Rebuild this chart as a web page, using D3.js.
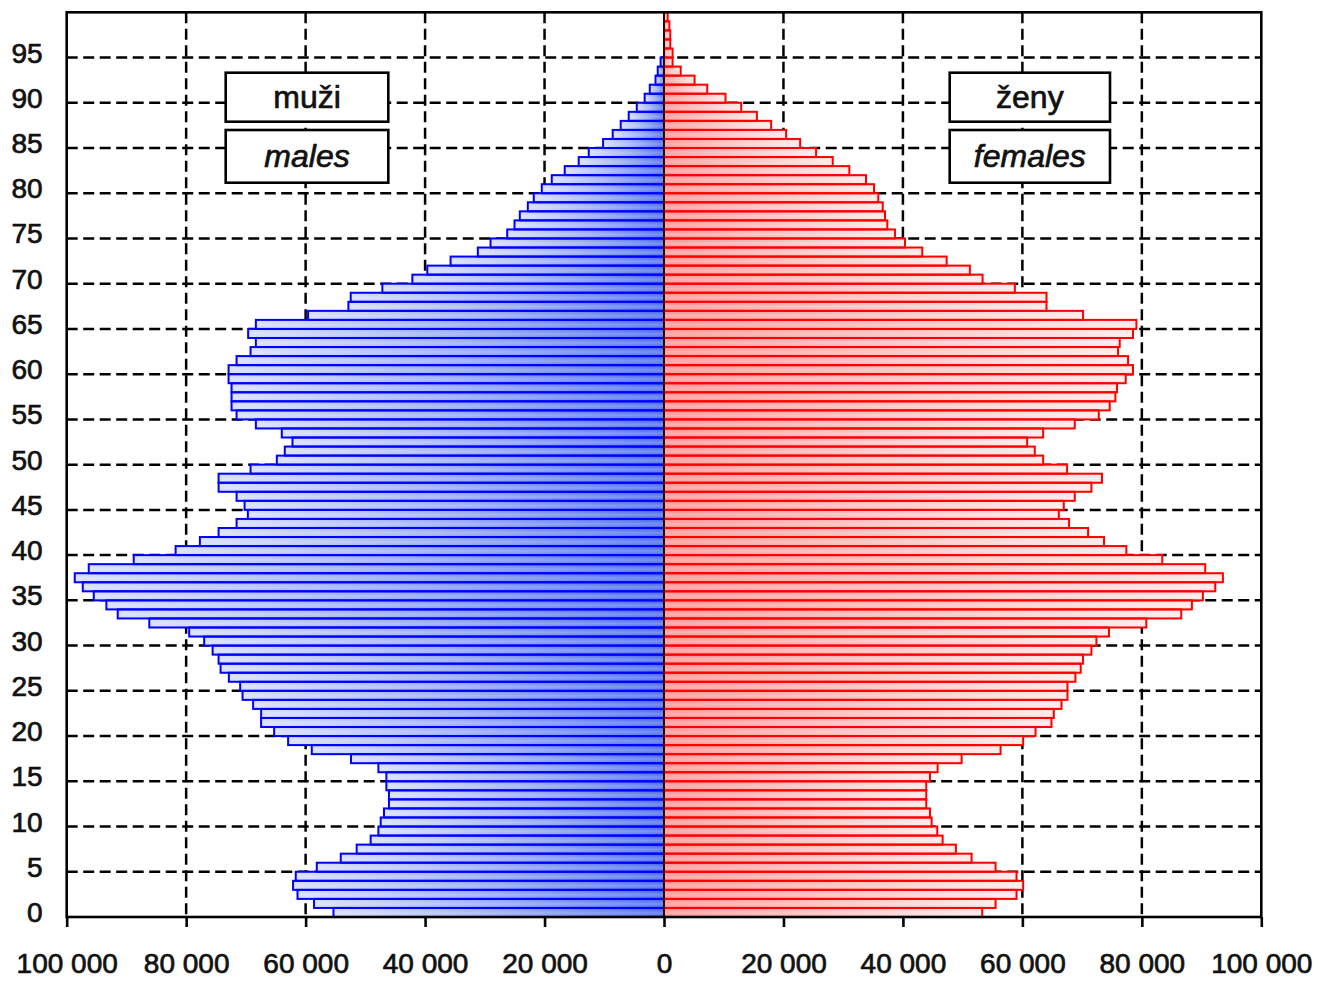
<!DOCTYPE html>
<html><head><meta charset="utf-8">
<script src="https://cdn.jsdelivr.net/npm/d3@7"></script>
<style>html,body{margin:0;padding:0;background:#fff;} svg{display:block;}</style>
</head><body>
<svg id="chart" width="1318" height="981"></svg>
<script>
// ---------- DATA ----------
const ages = d3.range(0, 100); // single years of age 0..99
const males = [
  55340, 58590, 61360, 62100, 61650, 58130, 54120, 51450, 49110, 47820,
  47430, 46880, 46050, 46050, 46480, 46480, 47820, 52400, 58970, 62930,
  65270, 67450, 67450, 68790, 70560, 70960, 72850, 74240, 74570, 75570,
  76980, 79490, 86170, 91460, 93360, 95470, 97310, 98650, 96310, 88780,
  81760, 77700, 74570, 71560, 69670, 70220, 71560, 74570, 74570, 69220,
  64820, 63490, 62200, 63990, 68330, 71560, 72400, 72400, 72400, 72900,
  72900, 71560, 69220, 68330, 69620, 68330, 59590, 52840, 52450, 47150,
  42130, 39630, 35730, 31170, 29040, 26250, 25030, 24140, 22800, 21800,
  20460, 18790, 16620, 14280, 12600, 10200, 8590, 7250, 5910, 4560,
  3240, 2380, 1420, 1050, 570, 0, 0, 0, 0, 0
];
const females = [
  53280, 55510, 59020, 60130, 59020, 55510, 51500, 48870, 46650, 45750,
  44810, 44530, 43910, 43910, 43910, 44530, 45810, 49830, 56350, 60130,
  62200, 64870, 65260, 66550, 67550, 67550, 68880, 69770, 70160, 71560,
  72400, 74500, 80750, 86600, 88380, 90220, 92290, 93570, 90620, 83430,
  77410, 73670, 71000, 67820, 66100, 66930, 68770, 71560, 73330, 67490,
  63480, 62080, 60800, 63480, 68770, 72790, 74620, 75570, 75850, 77300,
  78520, 77690, 76020, 76300, 78520, 79090, 70160, 64040, 64040, 58740,
  53340, 51210, 47320, 43240, 40350, 38670, 37390, 37000, 36620, 35880,
  35160, 33820, 31030, 28250, 25460, 22790, 20450, 17940, 15550, 12930,
  10300, 7240, 5120, 2800, 1440, 1440, 1050, 1050, 900, 620
];
const xTickValues = [-100000, -80000, -60000, -40000, -20000, 0, 20000, 40000, 60000, 80000, 100000];
const xTickLabels = ["100 000", "80 000", "60 000", "40 000", "20 000", "0", "20 000", "40 000", "60 000", "80 000", "100 000"];
const yTickValues = [0, 5, 10, 15, 20, 25, 30, 35, 40, 45, 50, 55, 60, 65, 70, 75, 80, 85, 90, 95];
const yTickLabels = ["0", "5", "10", "15", "20", "25", "30", "35", "40", "45", "50", "55", "60", "65", "70", "75", "80", "85", "90", "95"];
const legendMale = ["muži", "males"];
const legendFemale = ["ženy", "females"];

// ---------- LAYOUT ----------
const plot = { left: 66.7, right: 1261.3, top: 12.3, bottom: 917 };
const FONT = "'Liberation Sans', Arial, sans-serif";

const svg = d3.select("#chart");
const x = d3.scaleLinear().domain([-100000, 100000]).range([plot.left, plot.right]);
const y = d3.scaleLinear().domain([0, 100]).range([plot.bottom, plot.top]);

// gradients
const defs = svg.append("defs");
const gM = defs.append("linearGradient").attr("id", "gMale").attr("x1", 0).attr("x2", 1).attr("y1", 0).attr("y2", 0);
gM.append("stop").attr("offset", 0).attr("stop-color", "#d2dafc");
gM.append("stop").attr("offset", 0.5).attr("stop-color", "#8ea3f5");
gM.append("stop").attr("offset", 1).attr("stop-color", "#3c60ee");
const gF = defs.append("linearGradient").attr("id", "gFemale").attr("x1", 0).attr("x2", 1).attr("y1", 0).attr("y2", 0);
gF.append("stop").attr("offset", 0).attr("stop-color", "#ff8c8c");
gF.append("stop").attr("offset", 0.5).attr("stop-color", "#ffb8b8");
gF.append("stop").attr("offset", 1).attr("stop-color", "#ffe6e6");
const gV = defs.append("linearGradient").attr("id", "gShine").attr("x1", 0).attr("x2", 0).attr("y1", 0).attr("y2", 1);
gV.append("stop").attr("offset", 0).attr("stop-color", "#fff").attr("stop-opacity", 0.0);
gV.append("stop").attr("offset", 0.55).attr("stop-color", "#fff").attr("stop-opacity", 0.3);
gV.append("stop").attr("offset", 1).attr("stop-color", "#fff").attr("stop-opacity", 0.05);

// gridlines (behind bars)
const grid = svg.append("g").attr("stroke", "#000").attr("stroke-width", 2.5).attr("stroke-dasharray", "11,5.5");
grid.selectAll("line.h").data(yTickValues.filter(v => v > 0)).join("line")
  .attr("x1", plot.left).attr("x2", plot.right)
  .attr("y1", d => y(d)).attr("y2", d => y(d));
grid.selectAll("line.v").data(xTickValues.filter(v => v !== 0 && Math.abs(v) < 100000)).join("line")
  .attr("y1", plot.top).attr("y2", plot.bottom)
  .attr("x1", d => x(d)).attr("x2", d => x(d));

// bars
const band = d => y(d) - y(d + 1);
const maleData = ages.map(a => ({ age: a, v: males[a] })).filter(d => d.v > 0);
const femData = ages.map(a => ({ age: a, v: females[a] })).filter(d => d.v > 0);

function drawBars(data, side, fillId, strokeCol) {
  const g = svg.append("g");
  const bx = d => side < 0 ? x(-d.v) : x(0);
  const bw = d => side < 0 ? x(0) - x(-d.v) : x(d.v) - x(0);
  g.selectAll("rect.f").data(data).join("rect")
    .attr("x", bx).attr("width", bw)
    .attr("y", d => y(d.age + 1)).attr("height", d => band(d.age))
    .attr("fill", `url(#${fillId})`);
  g.selectAll("rect.s").data(data).join("rect")
    .attr("x", bx).attr("width", bw)
    .attr("y", d => y(d.age + 1)).attr("height", d => band(d.age))
    .attr("fill", "url(#gShine)");
  g.selectAll("rect.o").data(data).join("rect")
    .attr("x", bx).attr("width", bw)
    .attr("y", d => y(d.age + 1)).attr("height", d => band(d.age))
    .attr("fill", "none").attr("stroke", strokeCol).attr("stroke-width", 2);
}
drawBars(maleData, -1, "gMale", "#0000ff");
drawBars(femData, 1, "gFemale", "#ff0000");

// center axis line
svg.append("line").attr("x1", x(0)).attr("x2", x(0)).attr("y1", plot.top).attr("y2", plot.bottom)
  .attr("stroke", "#000").attr("stroke-width", 1.6);

// legend boxes
function legendBox(labels, x0, x1) {
  const boxes = [{ y0: 72.7, y1: 121.7, italic: false, base: 108 }, { y0: 130, y1: 182.7, italic: true, base: 167 }];
  boxes.forEach((b, i) => {
    svg.append("rect").attr("x", x0).attr("y", b.y0).attr("width", x1 - x0).attr("height", b.y1 - b.y0)
      .attr("fill", "#fff").attr("stroke", "#000").attr("stroke-width", 2.6);
    svg.append("text").attr("x", (x0 + x1) / 2).attr("y", b.base)
      .attr("text-anchor", "middle").attr("font-family", FONT).attr("font-size", 32)
      .attr("font-style", b.italic ? "italic" : "normal").attr("fill", "#111")
      .attr("stroke", "#111").attr("stroke-width", 0.7)
      .text(labels[i]);
  });
}
legendBox(legendMale, 225.7, 388.3);
legendBox(legendFemale, 949.7, 1110);

// frame
svg.append("rect").attr("x", plot.left).attr("y", plot.top)
  .attr("width", plot.right - plot.left).attr("height", plot.bottom - plot.top)
  .attr("fill", "none").attr("stroke", "#000").attr("stroke-width", 2.6);

// x axis
const xAxis = d3.axisBottom(x).tickValues(xTickValues)
  .tickFormat((d, i) => xTickLabels[i]).tickSize(10).tickPadding(26);
const gx = svg.append("g").attr("transform", `translate(0,${plot.bottom})`).call(xAxis);
gx.select(".domain").remove();
gx.selectAll(".tick line").attr("stroke", "#000").attr("stroke-width", 2.6);
gx.selectAll(".tick text").attr("font-family", FONT).attr("font-size", 28).attr("fill", "#111")
  .attr("stroke", "#111").attr("stroke-width", 0.7);

// y axis labels
const yAxis = d3.axisLeft(y).tickValues(yTickValues)
  .tickFormat((d, i) => yTickLabels[i]).tickSize(0).tickPadding(24);
const gy = svg.append("g").attr("transform", `translate(${plot.left},0)`).call(yAxis);
gy.select(".domain").remove();
gy.selectAll(".tick text").attr("font-family", FONT).attr("font-size", 28).attr("fill", "#111")
  .attr("stroke", "#111").attr("stroke-width", 0.7)
  .attr("dy", "0.16em");
</script>
</body></html>
